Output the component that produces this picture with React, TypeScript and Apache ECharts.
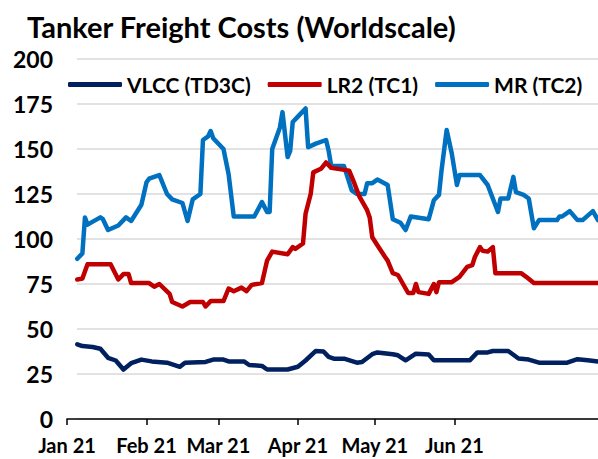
import React, { useEffect, useRef } from "react";
import * as echarts from "echarts";

const title = "Tanker Freight Costs (Worldscale)";
const seriesNames = ["VLCC (TD3C)", "LR2 (TC1)", "MR (TC2)"];
const tickDates = ["2021-01-01", "2021-02-01", "2021-03-01", "2021-04-01", "2021-05-01", "2021-06-01"];
const monthNames = ["Jan", "Feb", "Mar", "Apr", "May", "Jun", "Jul", "Aug", "Sep", "Oct", "Nov", "Dec"];
const xMin = "2021-01-01";
const xMax = "2021-07-27";

const vlccDates = ["01-05","01-07","01-11","01-14","01-17","01-20","01-23","01-26","01-30","02-03","02-09","02-14","02-16","02-24","02-27","03-03","03-05","03-11","03-13","03-18","03-20","03-28","04-01","04-04","04-08","04-11","04-13","04-15","04-19","04-24","04-26","04-30","05-02","05-08","05-10","05-13","05-17","05-22","05-24","06-07","06-10","06-14","06-16","06-22","06-26","06-30","07-04","07-15","07-19","07-23","07-27"];
const vlccValues = [41.5,40.5,40,39,34,32.5,27.5,31,33,32,31.3,29,31.3,31.7,33,33,32,32,30,29.5,27.5,27.5,29,32.5,37.8,37.5,34.5,33.5,33.5,31.3,31.7,36,37,36,35.4,32.6,36.3,35.8,32.6,32.6,37,37,37.8,37.8,33.6,33,31.3,31.3,33.2,32.6,32];

const lr2Dates = ["01-05","01-07","01-09","01-18","01-21","01-23","01-25","01-26","02-02","02-04","02-06","02-10","02-11","02-15","02-18","02-23","02-24","02-26","03-03","03-05","03-07","03-10","03-12","03-14","03-18","03-20","03-22","03-28","03-30","03-31","04-03","04-04","04-06","04-07","04-10","04-12","04-14","04-21","04-23","04-25","04-28","04-29","04-30","05-02","05-05","05-06","05-08","05-10","05-14","05-16","05-17","05-18","05-22","05-24","05-25","05-26","05-31","06-03","06-06","06-08","06-09","06-11","06-12","06-14","06-16","06-17","06-27","06-29","07-02","07-27"];
const lr2Values = [77.5,78,86,86,77.5,80.5,80.5,75.5,75.5,73.5,75,69.5,65,62.5,65,65,62.5,65.5,65.5,72.5,71,73,71,74.5,75.5,88,93,91.5,95.5,94.5,97.5,114,125,137,139,142.5,139.5,138,131,123.5,116,112,101,96.5,90,88,81,80,70,70,75,70.5,69.5,75,70.5,76,76,79,84.5,85.5,90,95.5,93.5,93,95.5,81,81,79,75.5,75.5];

const mrDates = ["01-05","01-07","01-08","01-09","01-14","01-15","01-17","01-21","01-24","01-26","01-30","02-01","02-02","02-06","02-09","02-11","02-15","02-17","02-19","02-22","02-23","02-25","02-26","02-27","03-03","03-05","03-07","03-15","03-18","03-20","03-21","03-22","03-25","03-26","03-28","03-29","03-30","04-01","04-04","04-05","04-08","04-12","04-13","04-14","04-19","04-22","04-24","04-27","04-28","04-30","05-02","05-06","05-08","05-11","05-13","05-15","05-22","05-24","05-26","05-27","05-29","05-31","06-02","06-03","06-11","06-14","06-18","06-19","06-22","06-24","06-25","06-28","06-30","07-02","07-04","07-11","07-12","07-13","07-16","07-19","07-21","07-25","07-27"];
const mrValues = [89,92,112,108,112,111,105,107.5,112,110,119,131.5,133.5,135.5,125,122,120,110,122,125,155,157,160,156,150,136,112.5,112.5,120.5,115,115,150,162,170.5,145.5,149,165,168,172.5,151,153,155,149,140.5,140.5,127,125,125,131,131,133,130,111,109,105,112.5,111,121.5,124.5,138,160.5,147.5,130,135.5,135.5,130,115,122.5,122.5,134.5,126,124.5,122.5,106,110.5,110.5,112.5,112.5,115.5,110.5,110.5,115.5,110.5];

const colors = ["#002060", "#C00000", "#0070C0"];

function toTime(s: string): number {
  const full = s.length === 5 ? "2021-" + s : s;
  const [y, m, d] = full.split("-").map(Number);
  return Date.UTC(y, m - 1, d);
}

function pairs(dates: string[], values: number[]) {
  return dates.map((d, i) => [toTime(d), values[i]]);
}

export default function App() {
  const ref = useRef<HTMLDivElement>(null);
  useEffect(() => {
    if (!ref.current) return;
    const chart = echarts.init(ref.current, null, { renderer: "svg" });
    const font = "Lato";
    const ticks = tickDates.map(toTime);
    const datasets = [pairs(vlccDates, vlccValues), pairs(lr2Dates, lr2Values), pairs(mrDates, mrValues)];
    chart.setOption({
      animation: false,
      title: {
        text: title,
        left: 27,
        top: 12,
        padding: 0,
        textStyle: { fontFamily: font, fontSize: 29, fontWeight: "bold", color: "#000" },
      },
      legend: {
        data: seriesNames,
        left: 68,
        top: 74,
        padding: 0,
        icon: "roundRect",
        itemWidth: 54,
        itemHeight: 5,
        itemGap: 17,
        textStyle: { fontFamily: font, fontSize: 21, fontWeight: "bold", color: "#000" },
      },
      grid: [
        { left: 67, right: 0, top: 59, bottom: 40, containLabel: false },
        { left: 77, right: 0, top: 59, bottom: 40, containLabel: false },
      ],
      xAxis: [
        {
          type: "value",
          gridIndex: 0,
          min: toTime(xMin),
          max: toTime(xMax),
          z: 5,
          axisLine: { lineStyle: { color: "#000", width: 1.5 } },
          axisTick: { show: true, length: 6, customValues: ticks, lineStyle: { color: "#000", width: 1.5 } },
          axisLabel: {
            customValues: ticks,
            margin: 16,
            fontFamily: font,
            fontSize: 20,
            fontWeight: "bold",
            color: "#000",
            hideOverlap: false,
            formatter: (v: number) => {
              const d = new Date(v);
              return monthNames[d.getUTCMonth()] + " " + String(d.getUTCFullYear()).slice(2);
            },
          },
          splitLine: { show: false },
        },
        {
          type: "value",
          gridIndex: 1,
          min: 0,
          max: 1,
          show: false,
        },
      ],
      yAxis: [
        {
          type: "value",
          gridIndex: 0,
          min: 0,
          max: 200,
          interval: 25,
          axisLine: { show: false },
          axisTick: { show: false },
          axisLabel: { margin: 14, fontFamily: font, fontSize: 23, fontWeight: "bold", color: "#000" },
          splitLine: { show: false },
        },
        {
          type: "value",
          gridIndex: 1,
          min: 0,
          max: 200,
          interval: 25,
          axisLine: { show: false },
          axisTick: { show: false },
          axisLabel: { show: false },
          splitLine: { lineStyle: { color: "#D9D9D9", width: 1.5 } },
        },
      ],
      series: seriesNames.map((name, i) => ({
        name,
        type: "line",
        xAxisIndex: 0,
        yAxisIndex: 0,
        data: datasets[i],
        showSymbol: false,
        symbol: "none",
        color: colors[i],
        lineStyle: { color: colors[i], width: 4.5, cap: "round", join: "round" },
        z: i === 0 ? 3 : i === 1 ? 4 : 2,
      })),
    });
    return () => chart.dispose();
  }, []);
  return <div ref={ref} style={{ width: 598, height: 459, position: "absolute", left: 0, top: 0 }} />;
}
